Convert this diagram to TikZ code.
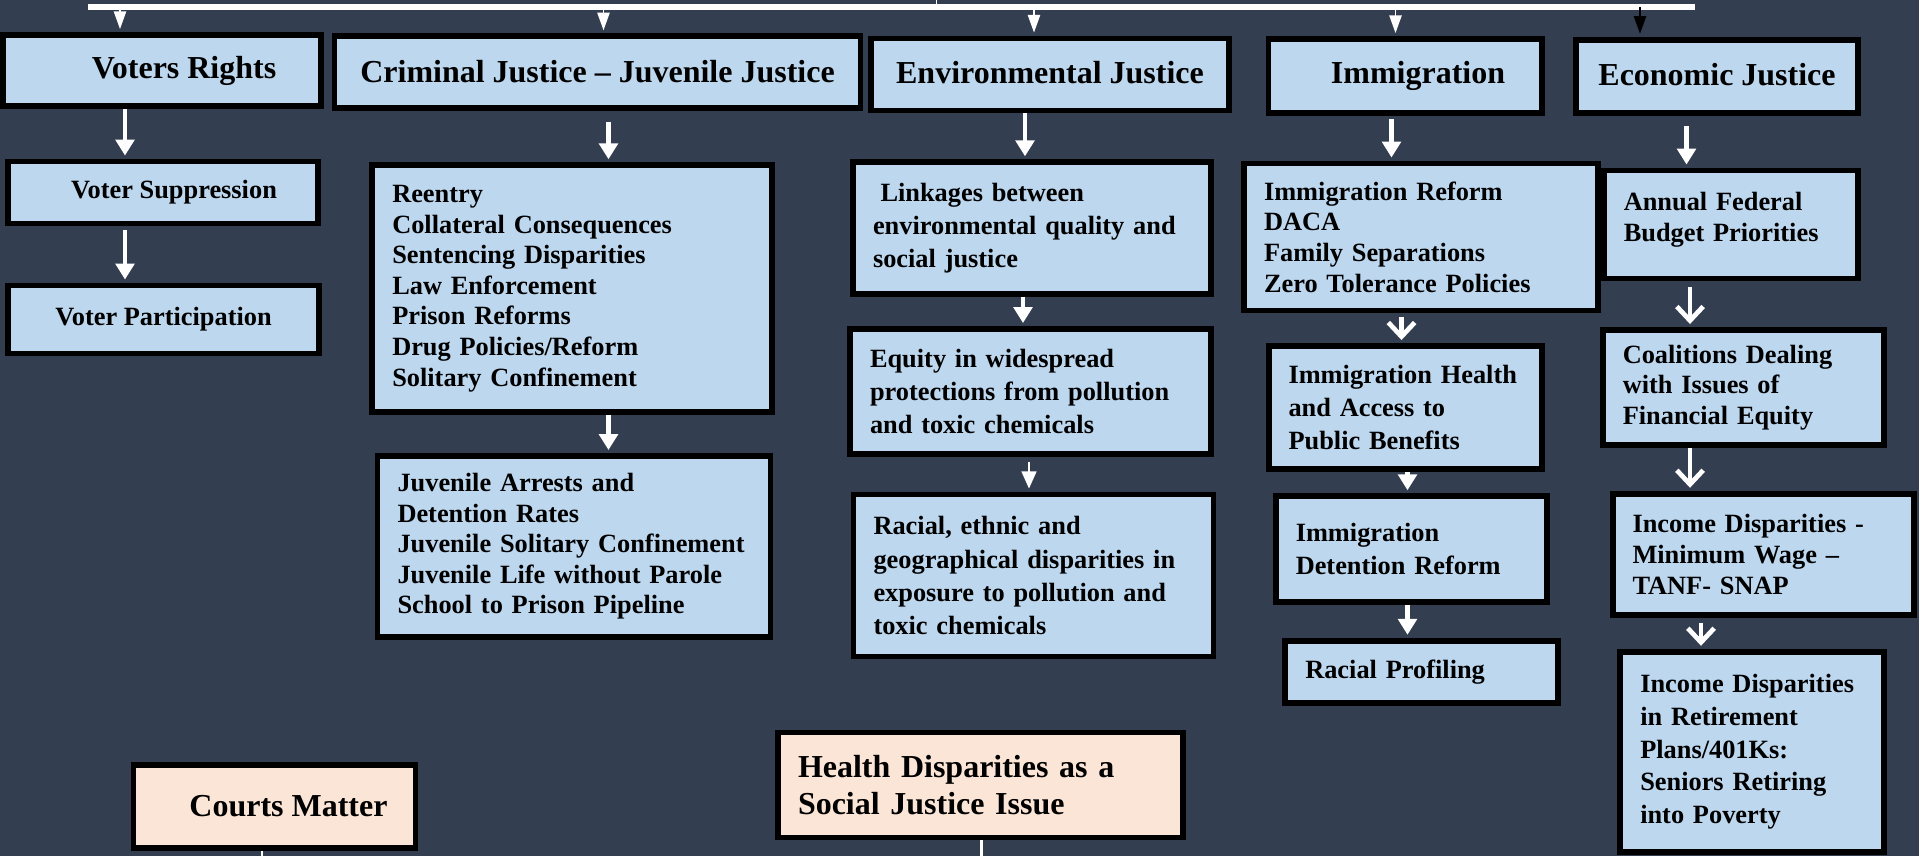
\documentclass[tikz,border=0pt]{standalone}
\usepackage{fontspec}
\setmainfont{Liberation Serif}
\usepackage{tikz}
\usetikzlibrary{arrows.meta,positioning,calc}
\usepackage{xcolor}
\definecolor{slatebg}{RGB}{51,62,80}
\definecolor{issueblue}{RGB}{189,215,238}
\definecolor{issuepeach}{RGB}{251,229,214}
\newcommand{\hdfont}{\fontsize{18.2}{20.9}\selectfont\bfseries}
\newcommand{\txfont}{\fontsize{15}{17.4}\selectfont\bfseries}
\newcommand{\txfontwide}{\fontsize{15}{18.8}\selectfont\bfseries}

\begin{document}
\begin{tikzpicture}[
    issuehead/.style={draw=black, line width=3.4pt, fill=issueblue, font=\hdfont, inner sep=0pt},
    issuebox/.style={draw=black, line width=3.4pt, fill=issueblue, font=\txfont, align=left, inner xsep=0.4cm, inner ysep=0pt},
    flow/.style={white, line width=2.7pt, shorten >=1.7pt, -{Triangle[length=9pt,width=10.5pt]}},
    flowopen/.style={white, line width=2.7pt, shorten >=1.7pt, -{Straight Barb[length=8pt,width=15pt]}},
    thinflow/.style={white, line width=0.8pt, shorten >=1.7pt, -{Triangle[length=10pt,width=7pt]}}
]
                % Background
                \fill[slatebg] (0,0) rectangle (38.38,-17.12);
                \useasboundingbox (0,0) rectangle (38.38,-17.12);

                % Top bar feeding the five issue areas
                \coordinate (barleft) at (1.76,-0.14);
                \coordinate (barright) at (33.90,-0.14);
                \coordinate (barstub) at (18.73,-0.14);
                \draw[white, line width=3.4pt] (barleft) -- (barright);
                \draw[white, line width=1pt] (barstub) -- (barstub |- 0,0);
                \coordinate (tapvoters) at (2.40,-0.14);
                \coordinate (tapcrim) at (12.07,-0.14);
                \coordinate (tapenv) at (20.68,-0.14);
                \coordinate (tapimm) at (27.91,-0.14);
                \coordinate (tapecon) at (32.80,-0.14);

                % Issue areas
                \node[issuehead, minimum width=6.37cm, minimum height=1.42cm] (votersrights) at (3.24,-1.41) {\hspace*{0.88cm}Voters Rights};
                \node[issuehead, minimum width=10.52cm, minimum height=1.43cm] (crimhead) at (11.95,-1.44) {Criminal Justice -- Juvenile Justice};
                \node[issuehead, minimum width=7.15cm, minimum height=1.44cm] (envhead) at (21.00,-1.49) {\raisebox{0.08cm}{Environmental Justice}};
                \node[issuehead, minimum width=5.46cm, minimum height=1.48cm] (immhead) at (28.10,-1.52) {\hspace*{0.52cm}Immigration};
                \node[issuehead, minimum width=5.63cm, minimum height=1.47cm] (econhead) at (34.34,-1.53) {\raisebox{0.08cm}{Economic Justice}};

                \draw[thinflow] (tapvoters) -- (tapvoters |- votersrights.north);
                \draw[thinflow] (tapcrim) -- (tapcrim |- crimhead.north);
                \draw[thinflow] (tapenv) -- (tapenv |- envhead.north);
                \draw[thinflow] (tapimm) -- (tapimm |- immhead.north);
                \draw[thinflow, black] (tapecon) -- (tapecon |- econhead.north);

                % Voters rights column
                \node[issuehead, font=\txfont, minimum width=6.21cm, minimum height=1.24cm] (votersupp) at (3.26,-3.85) {\hspace*{0.44cm}Voter Suppression};
                \node[issuehead, font=\txfont, minimum width=6.23cm, minimum height=1.36cm] (voterpart) at (3.27,-6.39) {Voter Participation};
                \draw[flow] ([xshift=-0.74cm]votersrights.south) -- ([xshift=-0.74cm]votersrights.south |- votersupp.north);
                \draw[flow, shorten <=0.07cm] ([xshift=-0.76cm]votersupp.south) -- ([xshift=-0.76cm]votersupp.south |- voterpart.north);

                % Criminal justice column
                \node[issuebox, text width=7.19cm, minimum height=4.93cm] (crimlist) at (11.44,-5.77) {Reentry\\Collateral Consequences\\Sentencing Disparities\\Law Enforcement\\Prison Reforms\\Drug Policies/Reform\\Solitary Confinement};
                \node[issuebox, text width=7.06cm, minimum height=3.62cm] (juvlist) at (11.48,-10.93) {Juvenile Arrests and\\Detention Rates\\Juvenile Solitary Confinement\\Juvenile Life without Parole\\School to Prison Pipeline};
                \draw[flow, shorten <=0.22cm] ([xshift=0.22cm]crimhead.south) -- ([xshift=0.22cm]crimhead.south |- crimlist.north);
                \draw[flow] ([xshift=0.73cm]crimlist.south) -- ([xshift=0.73cm]crimlist.south |- juvlist.north);

                % Environmental justice column
                \node[issuebox, font=\txfontwide, text width=6.36cm, minimum height=2.63cm] (linkages) at (20.64,-4.56) {\hspace*{0.15cm}Linkages between\\environmental quality and\\social justice};
                \node[issuebox, font=\txfontwide, text width=6.42cm, minimum height=2.50cm] (equity) at (20.61,-7.83) {Equity in widespread\\protections from pollution\\and toxic chemicals};
                \node[issuebox, font=\txfontwide, text width=6.40cm, minimum height=3.24cm] (racialexp) at (20.67,-11.51) {Racial, ethnic and\\geographical disparities in\\exposure to pollution and\\toxic chemicals};
                \draw[flow] ([xshift=-0.50cm]envhead.south) -- ([xshift=-0.50cm]envhead.south |- linkages.north);
                \draw[flow] ([xshift=-0.18cm]linkages.south) -- ([xshift=-0.18cm]linkages.south |- equity.north);
                \draw[thinflow, shorten <=0.1cm, -{Triangle[length=9.7pt,width=8.5pt]}] ([xshift=-0.03cm]equity.south) -- ([xshift=-0.03cm]equity.south |- racialexp.north);

                % Immigration column
                \node[issuebox, text width=6.28cm, minimum height=2.94cm] (immlist) at (28.42,-4.74) {Immigration Reform\\DACA\\Family Separations\\Zero Tolerance Policies};
                \node[issuebox, font=\txfontwide, text width=4.66cm, minimum height=2.46cm] (immhealth) at (28.10,-8.15) {Immigration Health\\and Access to\\Public Benefits};
                \node[issuebox, font=\txfontwide, text width=4.63cm, minimum height=2.11cm] (detention) at (28.23,-10.98) {Immigration\\Detention Reform};
                \node[issuebox, text width=4.65cm, minimum height=1.25cm] (profiling) at (28.43,-13.44) {Racial Profiling};
                \draw[flow, shorten <=0.07cm] ([xshift=-0.27cm]immhead.south) -- ([xshift=-0.27cm]immhead.south |- immlist.north);
                \draw[flowopen, shorten <=0.07cm] ([xshift=-0.39cm]immlist.south) -- ([xshift=-0.39cm]immlist.south |- immhealth.north);
                \draw[flow] ([xshift=0.05cm]immhealth.south) -- ([xshift=0.05cm]immhealth.south |- detention.north);
                \draw[flow] ([xshift=-0.08cm]detention.south) -- ([xshift=-0.08cm]detention.south |- profiling.north);

                % Economic justice column
                \node[issuebox, text width=4.29cm, minimum height=2.16cm] (annual) at (34.62,-4.49) {Annual Federal\\Budget Priorities\\[-0.3cm]\mbox{}};
                \node[issuebox, text width=4.83cm, minimum height=2.30cm] (coalitions) at (34.87,-7.75) {Coalitions Dealing\\with Issues of\\Financial Equity};
                \node[issuebox, text width=5.22cm, minimum height=2.43cm] (income) at (35.26,-11.09) {Income Disparities -\\Minimum Wage --\\TANF- SNAP};
                \node[issuebox, font=\fontsize{15}{18.6}\selectfont\bfseries, text width=4.47cm, minimum height=4.01cm] (retirement) at (35.04,-15.04) {Income Disparities\\in Retirement\\Plans/401Ks:\\Seniors Retiring\\into Poverty};
                \draw[flow, shorten <=0.2cm] ([xshift=-0.61cm]econhead.south) -- ([xshift=-0.61cm]econhead.south |- annual.north);
                \draw[flowopen, shorten <=0.12cm] ([xshift=-0.82cm]annual.south) -- ([xshift=-0.82cm]annual.south |- coalitions.north);
                \draw[flowopen] ([xshift=-1.07cm]coalitions.south) -- ([xshift=-1.07cm]coalitions.south |- income.north);
                \draw[flowopen, shorten <=0.1cm] ([xshift=-1.24cm]income.south) -- ([xshift=-1.24cm]income.south |- retirement.north);

                % Lower issue areas
                \node[issuehead, fill=issuepeach, minimum width=5.64cm, minimum height=1.65cm] (courts) at (5.49,-16.13) {\hspace*{0.56cm}Courts Matter};
                \node[issuebox, fill=issuepeach, font=\hdfont, text width=7.30cm, minimum height=2.10cm] (health) at (19.61,-15.70) {Health Disparities as a\\Social Justice Issue};
                \coordinate (courtsdrop) at (5.24,-17.12);
                \coordinate (healthdrop) at (19.62,-17.12);
                \draw[white, line width=1.7pt] (courtsdrop |- courts.south) -- (courtsdrop);
                \draw[white, line width=1.7pt] (healthdrop |- health.south) -- (healthdrop);
            \end{tikzpicture}
\end{document}
